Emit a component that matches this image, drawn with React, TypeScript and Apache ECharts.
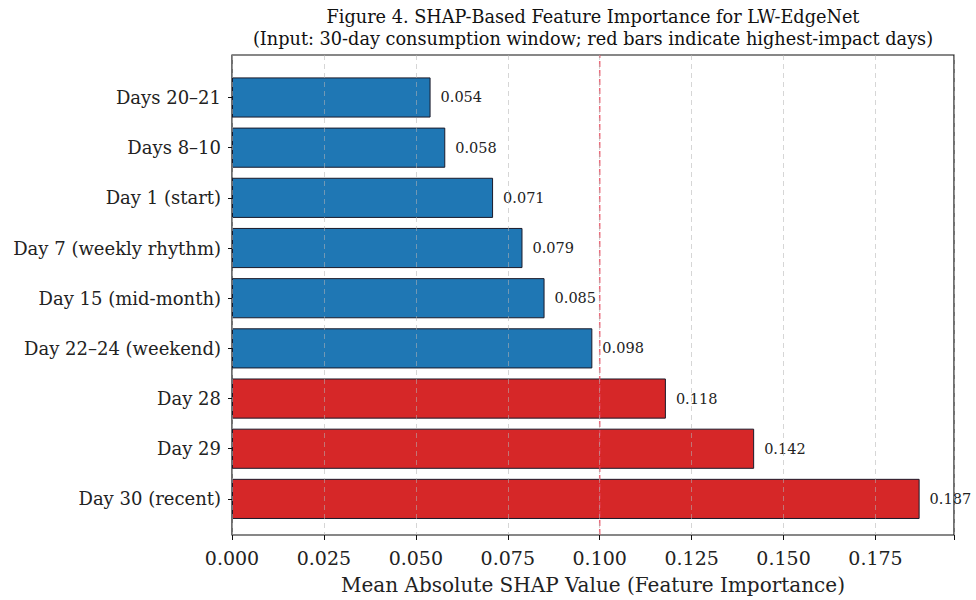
import React, { useEffect, useRef } from "react";
import * as echarts from "echarts";

const categories = [
  "Days 20–21",
  "Days 8–10",
  "Day 1 (start)",
  "Day 7 (weekly rhythm)",
  "Day 15 (mid-month)",
  "Day 22–24 (weekend)",
  "Day 28",
  "Day 29",
  "Day 30 (recent)",
];
const shapValues = [0.054, 0.058, 0.071, 0.079, 0.085, 0.098, 0.118, 0.142, 0.187];
const highImpact = ["Day 28", "Day 29", "Day 30 (recent)"];
const thresholdX = [0.1];
const xTicks = [0, 0.025, 0.05, 0.075, 0.1, 0.125, 0.15, 0.175];

const titleLine1 = "Figure 4. SHAP-Based Feature Importance for LW-EdgeNet";
const titleLine2 = "(Input: 30-day consumption window; red bars indicate highest-impact days)";
const xAxisName = "Mean Absolute SHAP Value (Feature Importance)";

const FONT = "DejaVu Serif";
const XMAX = 0.19635;
const LEFT = 232;
const RIGHT = 22;

export default function App() {
  const ref = useRef<HTMLDivElement>(null);
  useEffect(() => {
    document.body.style.margin = "0";
    if (!ref.current) return;
    const chart = echarts.init(ref.current, null, { renderer: "svg" });
    const barData = categories.map((c, i) => ({
      value: shapValues[i],
      itemStyle: { color: highImpact.includes(c) ? "#d62728" : "#1f77b4" },
    }));
    chart.setOption({
      animation: false,
      backgroundColor: "#ffffff",
      graphic: [
        {
          type: "text",
          x: 593,
          y: 17,
          style: { text: titleLine1, font: `17.7px '${FONT}'`, fill: "#111", textAlign: "center", textVerticalAlign: "middle" },
        },
        {
          type: "text",
          x: 593,
          y: 39,
          style: { text: titleLine2, font: `17.7px '${FONT}'`, fill: "#111", textAlign: "center", textVerticalAlign: "middle" },
        },
      ],
      grid: [
        { left: LEFT, right: RIGHT, top: 55, bottom: 60, show: true, borderColor: "#111", borderWidth: 1.2, backgroundColor: "transparent", containLabel: false },
        { left: LEFT, right: RIGHT, top: 72.4, height: 451.6, containLabel: false },
      ],
      xAxis: [
        {
          type: "value",
          gridIndex: 0,
          min: 0,
          max: XMAX,
          interval: 0.025,
          z: 5,
          axisLine: { show: false },
          axisTick: { show: true, length: 5, lineStyle: { color: "#111", width: 1 } },
          axisLabel: {
            fontFamily: FONT,
            fontSize: 19,
            color: "#222",
            margin: 13,
            formatter: (v: number) => (xTicks.some((t) => Math.abs(t - v) < 1e-9) ? v.toFixed(3) : ""),
          },
          splitLine: { show: true, lineStyle: { color: "rgba(180,180,180,0.55)", type: [5, 4], width: 1 } },
          name: xAxisName,
          nameLocation: "middle",
          nameGap: 40,
          nameTextStyle: { fontFamily: FONT, fontSize: 20, color: "#222" },
        },
        { type: "value", gridIndex: 1, min: 0, max: XMAX, show: false },
      ],
      yAxis: [
        { type: "value", gridIndex: 0, min: 0, max: 1, show: false },
        {
          type: "category",
          gridIndex: 1,
          data: categories,
          inverse: true,
          axisLine: { show: false },
          axisTick: { show: true, alignWithLabel: true, length: 4, lineStyle: { color: "#111" } },
          axisLabel: { fontFamily: FONT, fontSize: 18, color: "#222", margin: 11 },
          splitLine: { show: false },
        },
      ],
      series: [
        {
          type: "bar",
          xAxisIndex: 1,
          yAxisIndex: 1,
          data: barData,
          barWidth: "80%",
          itemStyle: { borderColor: "#1a1a2a", borderWidth: 1 },
          label: {
            show: true,
            position: "right",
            distance: 10,
            fontFamily: FONT,
            fontSize: 14.5,
            color: "#222",
            formatter: (p: any) => Number(p.value).toFixed(3),
          },
          z: 2,
        },
        {
          type: "line",
          xAxisIndex: 0,
          yAxisIndex: 0,
          data: [
            [thresholdX[0], 0],
            [thresholdX[0], 1],
          ],
          symbol: "none",
          silent: true,
          lineStyle: { color: "rgba(230,70,90,0.8)", type: [6, 3], width: 1.5 },
          z: 4,
        },
      ],
    });
    return () => chart.dispose();
  }, []);
  return <div ref={ref} style={{ width: 976, height: 600 }} />;
}
